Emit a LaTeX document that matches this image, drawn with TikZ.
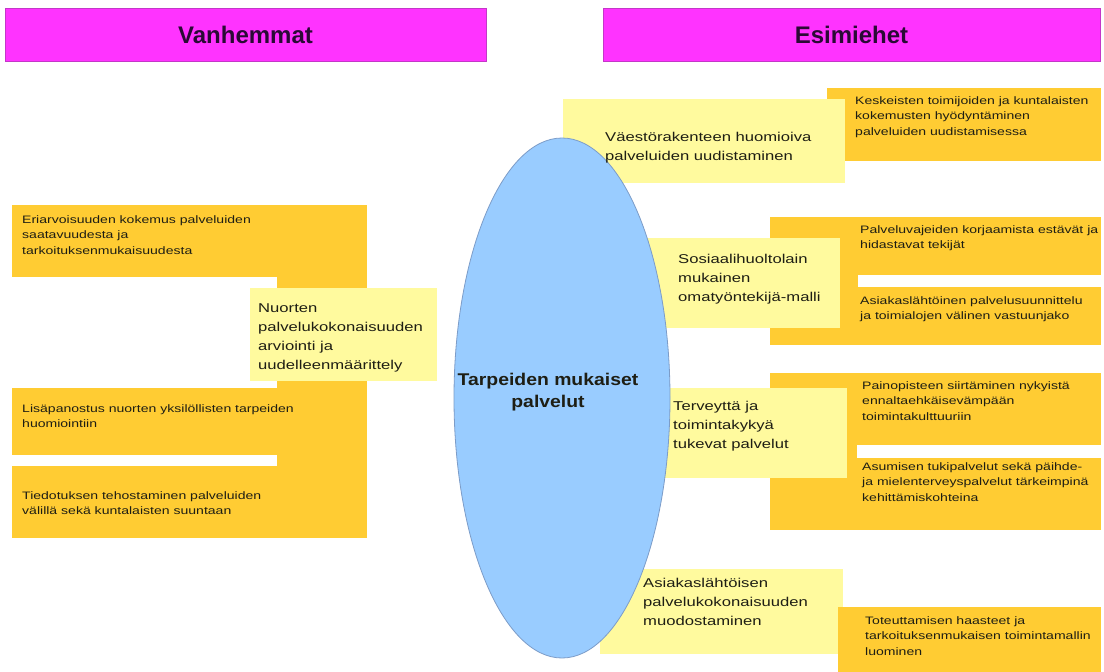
\documentclass[tikz,border=0pt]{standalone}
\usepackage{fontspec}
\setmainfont{Liberation Sans}
% wide-set sans families for the box texts
\newfontfamily\bodyfont[FakeStretch=1.3]{Liberation Sans}
\newfontfamily\hubfont[FakeStretch=1.14]{Liberation Sans}
\usetikzlibrary{shapes.geometric}

\definecolor{headmag}{HTML}{FF33FF}
\definecolor{headedge}{HTML}{C437C8}
\definecolor{orangec}{HTML}{FFCC33}
\definecolor{yellowc}{HTML}{FFFA9E}
\definecolor{hubfill}{HTML}{99CCFF}
\definecolor{hubedge}{HTML}{7C9CC8}
\definecolor{txt}{HTML}{1E1E14}
\definecolor{headtxt}{HTML}{2A0A35}

\tikzset{
  headbox/.style={fill=headmag, draw=headedge, line width=0.8pt},
  obox/.style={fill=orangec},
  ybox/.style={fill=yellowc},
  smalltxt/.style={anchor=north west, inner sep=0pt, align=left, text=txt,
    font=\bodyfont\fontsize{10.8}{#1}\selectfont},
  smalltxt/.default=15.5,
  midtxt/.style={anchor=north west, inner sep=0pt, align=left, text=txt,
    font=\bodyfont\fontsize{12.8}{#1}\selectfont},
  midtxt/.default=19,
  headtxtstyle/.style={text=headtxt, font=\bfseries\fontsize{24}{28}\selectfont},
}

\begin{document}
\begin{tikzpicture}[x=1pt, y=-1pt]
\useasboundingbox (0,0) rectangle (1104,672);
\fill[white] (0,0) rectangle (1104,672);

% headers
\draw[headbox] (5,8) rectangle (486,61);
\draw[headbox] (603,8) rectangle (1100,61);
\node[headtxtstyle] (hleft) at (245.5,34.5) {Vanhemmat};
\node[headtxtstyle] (hright) at (851.5,34.5) {Esimiehet};

% left orange group
\fill[obox] (277,205) rectangle (367,538);
\fill[obox] (12,205) rectangle (367,277);
\fill[obox] (12,388) rectangle (367,455);
\fill[obox] (12,466) rectangle (367,538);
\fill[ybox] (250,288) rectangle (437,381);

% right orange groups
\fill[obox] (827,88) rectangle (1101,161);
\fill[ybox] (563,99) rectangle (845,183);

\fill[obox] (770,217) rectangle (858,345);
\fill[obox] (858,217) rectangle (1101,275);
\fill[obox] (858,287) rectangle (1101,345);
\fill[ybox] (640,238) rectangle (840,328);

\fill[obox] (770,373) rectangle (857,530);
\fill[obox] (857,373) rectangle (1101,445);
\fill[obox] (857,458) rectangle (1101,530);
\fill[ybox] (640,388) rectangle (847,478);

\fill[ybox] (600,569) rectangle (843,654);

% central ellipse
\node[ellipse, fill=hubfill, draw=hubedge, line width=0.8pt,
      minimum width=216pt, minimum height=520pt, inner sep=0pt] (hub) at (562,398) {};

\fill[obox] (838,607) rectangle (1101,672);

% central label
\node[anchor=north, inner sep=0pt, align=center, text=txt,
      font=\hubfont\bfseries\fontsize{17}{22}\selectfont] (hubtext) at (548,369.6)
  {\strut Tarpeiden mukaiset\\palvelut};

% left texts
\node[smalltxt] (l1) at (22,212.2) {\strut Eriarvoisuuden kokemus palveluiden\\saatavuudesta ja\\tarkoituksenmukaisuudesta};
\node[smalltxt] (l2) at (22,401.2) {\strut Lisäpanostus nuorten yksilöllisten tarpeiden\\huomiointiin};
\node[smalltxt] (l3) at (22,488.2) {\strut Tiedotuksen tehostaminen palveluiden\\välillä sekä kuntalaisten suuntaan};
\node[midtxt] (nuorten) at (258,298.7) {\strut Nuorten\\palvelukokonaisuuden\\arviointi ja\\uudelleenmäärittely};

% right texts
\node[midtxt] (vaesto) at (605,127.7) {\strut Väestörakenteen huomioiva\\palveluiden uudistaminen};
\node[smalltxt] (kesk) at (855,93.2) {\strut Keskeisten toimijoiden ja kuntalaisten\\kokemusten hyödyntäminen\\palveluiden uudistamisessa};

\node[midtxt] (sosiaali) at (678,249.7) {\strut Sosiaalihuoltolain\\mukainen\\omatyöntekijä-malli};
\node[smalltxt] (palv) at (860,222.2) {\strut Palveluvajeiden korjaamista estävät ja\\hidastavat tekijät};
\node[smalltxt] (asiak) at (860,293.2) {\strut Asiakaslähtöinen palvelusuunnittelu\\ja toimialojen välinen vastuunjako};

\node[midtxt] (terveys) at (673,396.7) {\strut Terveyttä ja\\toimintakykyä\\tukevat palvelut};
\node[smalltxt] (paino) at (862,378.2) {\strut Painopisteen siirtäminen nykyistä\\ennaltaehkäisevämpään\\toimintakulttuuriin};
\node[smalltxt] (asum) at (862,459.2) {\strut Asumisen tukipalvelut sekä päihde-\\ja mielenterveyspalvelut tärkeimpinä\\kehittämiskohteina};

\node[midtxt] (kokonais) at (643,573.7) {\strut Asiakaslähtöisen\\palvelukokonaisuuden\\muodostaminen};
\node[smalltxt] (tote) at (865,613.2) {\strut Toteuttamisen haasteet ja\\tarkoituksenmukaisen toimintamallin\\luominen};
\end{tikzpicture}
\end{document}
